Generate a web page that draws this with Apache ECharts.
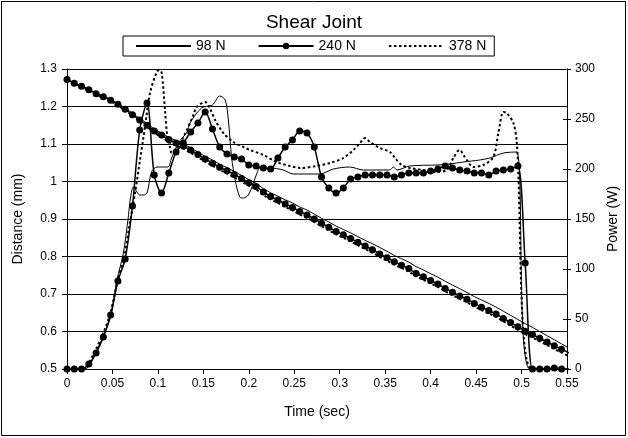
<!DOCTYPE html>
<html>
<head>
<meta charset="utf-8">
<script src="https://cdn.jsdelivr.net/npm/echarts@6/dist/echarts.min.js"></script>
<style>
  html, body { margin: 0; padding: 0; background: #fff; }
  #chart { width: 628px; height: 438px; }
</style>
</head>
<body>
<div id="chart"></div>
<script>
// Sample times (s) shared by the distance traces and the 240 N power trace
const timeS = [0,0.008,0.016,0.024,0.032,0.04,0.048,0.056,0.064,0.072,0.08,0.088,0.096,0.104,0.112,0.12,0.128,0.136,0.144,0.152,0.16,0.168,0.176,0.184,0.192,0.2,0.208,0.216,0.224,0.232,0.24,0.248,0.256,0.264,0.272,0.28,0.288,0.296,0.304,0.312,0.32,0.328,0.336,0.344,0.352,0.36,0.368,0.376,0.384,0.392,0.4,0.408,0.416,0.424,0.432,0.44,0.448,0.456,0.464,0.472,0.48,0.488,0.496,0.504,0.512,0.52,0.528,0.536,0.544,0.552];

// Horn distance (mm)
const dist98 = [1.273,1.263,1.255,1.246,1.236,1.228,1.219,1.208,1.196,1.182,1.168,1.155,1.140,1.129,1.118,1.109,1.101,1.090,1.078,1.067,1.057,1.046,1.037,1.027,1.016,1.005,0.995,0.981,0.970,0.961,0.951,0.943,0.932,0.924,0.913,0.902,0.892,0.881,0.872,0.863,0.853,0.843,0.834,0.824,0.814,0.803,0.794,0.785,0.773,0.764,0.754,0.745,0.734,0.724,0.714,0.704,0.693,0.684,0.675,0.665,0.654,0.643,0.632,0.621,0.611,0.600,0.589,0.578,0.567,0.556];
const dist240 = [1.272,1.262,1.254,1.245,1.234,1.226,1.217,1.206,1.193,1.178,1.164,1.150,1.135,1.124,1.112,1.103,1.095,1.084,1.072,1.060,1.049,1.038,1.029,1.019,1.008,0.997,0.987,0.972,0.960,0.951,0.940,0.931,0.920,0.911,0.900,0.889,0.878,0.867,0.858,0.848,0.838,0.828,0.818,0.807,0.797,0.786,0.777,0.768,0.755,0.746,0.736,0.727,0.715,0.705,0.695,0.686,0.675,0.665,0.656,0.647,0.635,0.624,0.613,0.601,0.592,0.582,0.572,0.562,0.553,0.543];
const dist378 = [1.272,1.261,1.252,1.243,1.232,1.223,1.214,1.203,1.190,1.175,1.160,1.146,1.130,1.118,1.106,1.096,1.088,1.077,1.065,1.053,1.042,1.031,1.021,1.011,1.000,0.989,0.979,0.964,0.952,0.943,0.932,0.923,0.912,0.903,0.892,0.881,0.870,0.859,0.850,0.840,0.830,0.820,0.810,0.799,0.789,0.778,0.769,0.760,0.747,0.738,0.728,0.719,0.707,0.697,0.687,0.678,0.667,0.657,0.648,0.639,0.627,0.616,0.605,0.593,0.584,0.574,0.564,0.553,0.544,0.534];

// Weld power (W)
const power240 = [0,0,0,5,16,32,54,88,110,163,239,266,194,176,196,217,226,237,246,257,240,222,215,212,210,204,203,201,200,211,222,229,238,236,222,192,181,176,181,190,192,194,194,194,194,192,194,196,196,196,198,200,203,201,199,198,196,196,194,198,199,200,203,106,0,0,0,1,0,0];

const time98P = [0,0.016,0.022,0.026,0.033,0.042,0.049,0.055,0.062,0.067,0.070,0.073,0.077,0.080,0.084,0.088,0.093,0.099,0.111,0.115,0.1225,0.132,0.1353,0.148,0.160,0.168,0.174,0.1775,0.181,0.185,0.190,0.194,0.1995,0.205,0.209,0.212,0.223,0.238,0.249,0.278,0.293,0.311,0.326,0.355,0.359,0.363,0.377,0.407,0.421,0.436,0.454,0.465,0.480,0.4946,0.509,0.552];
const power98 = [0,0,1,5,19,37,56,89,116,149,172,182,177,174,174,176,197,202,202,211,226,237,246,261,264,273,269,249,212,189,172,171,174,186,196,201,201,199,195,195,200,202,199,199,202,199,203,204,205,207,209,211,216,217,0,0];

const time378P = [0,0.012,0.02,0.024,0.032,0.04,0.048,0.056,0.063,0.068,0.0748,0.0803,0.0858,0.0913,0.0987,0.1016,0.1042,0.1078,0.1104,0.1133,0.1151,0.128,0.139,0.1427,0.152,0.157,0.163,0.172,0.183,0.194,0.2013,0.216,0.2307,0.2453,0.2563,0.2747,0.2893,0.304,0.315,0.3223,0.3278,0.3333,0.3443,0.3553,0.3608,0.3682,0.3773,0.392,0.4067,0.4177,0.425,0.4316,0.4397,0.447,0.458,0.469,0.4745,0.48,0.4837,0.491,0.4947,0.511,0.552];
const power378 = [0,0,2,6,20,36,57,90,112,140,176,209,242,276,297,299,296,259,232,222,216,232,254,262,267,261,249,236,227,222,219,214,207,203,201,203,206,211,219,226,231,227,221,217,211,204,201,199,197,199,211,219,209,202,204,212,236,257,256,246,227,0,0];

// Axis ranges and legend entries
const timeAxis = { min: 0, max: 0.55, step: 0.05 };
const distAxis = { min: 0.5, max: 1.3, step: 0.1 };
const powerAxis = { min: 0, max: 300, step: 50 };
const loads = ['98 N', '240 N', '378 N'];

const zip = (xs, ys) => xs.map((x, i) => [x, ys[i]]);
const FONT = 'Liberation Sans, Arial, sans-serif';
const INK = '#000';

const solidStyle = { color: INK, width: 1 };
const markerLineStyle = { color: INK, width: 1.5 };
const dottedStyle = { color: INK, width: 2, type: [2.5, 2.5] };

function lineSeries(name, yAxisIndex, data, style, withMarker, smooth) {
  return {
    name, type: 'line', yAxisIndex, data,
    smooth,
    symbol: withMarker ? 'circle' : 'none',
    symbolSize: 7,
    showSymbol: withMarker,
    itemStyle: { color: INK },
    lineStyle: style,
    z: withMarker ? 4 : 3,
    animation: false,
    silent: true
  };
}

const chart = echarts.init(document.getElementById('chart'), null, { renderer: 'canvas' });
chart.setOption({
  backgroundColor: '#fff',
  animation: false,
  title: {
    text: 'Shear Joint',
    left: 'center',
    top: 8,
    textStyle: { fontFamily: FONT, fontSize: 19, fontWeight: 'normal', color: INK }
  },
  legend: {
    // plain line keys for the unmarked traces
    data: [
      { name: loads[0], itemStyle: { opacity: 0 } },
      { name: loads[1] },
      { name: loads[2], itemStyle: { opacity: 0 } }
    ],
    left: 123,
    top: 36,
    itemWidth: 55,
    itemHeight: 8,
    itemGap: 32,
    padding: [3, 8, 3, 12],
    borderColor: INK,
    borderWidth: 1,
    backgroundColor: '#fff',
    textStyle: { fontFamily: FONT, fontSize: 14, color: INK }
  },
  graphic: [{
    type: 'rect',
    shape: { x: 1.5, y: 1.5, width: 624, height: 434 },
    style: { fill: null, stroke: INK, lineWidth: 1 },
    silent: true
  }],
  grid: { left: 67, right: 61, top: 69, bottom: 69 },
  xAxis: {
    type: 'value',
    min: timeAxis.min, max: timeAxis.max, interval: timeAxis.step,
    name: 'Time (sec)',
    nameLocation: 'middle',
    nameGap: 36,
    nameTextStyle: { fontFamily: FONT, fontSize: 14, color: INK },
    axisLine: { show: true, onZero: false, lineStyle: { color: INK, width: 1 } },
    axisTick: { show: true, length: 5, lineStyle: { color: INK } },
    axisLabel: { fontFamily: FONT, fontSize: 12, color: INK, margin: 9 },
    splitLine: { show: false }
  },
  yAxis: [{
    type: 'value',
    position: 'left',
    min: distAxis.min, max: distAxis.max, interval: distAxis.step,
    name: 'Distance (mm)',
    nameLocation: 'middle',
    nameRotate: 90,
    nameGap: 42,
    nameTextStyle: { fontFamily: FONT, fontSize: 14, color: INK },
    axisLine: { show: true, lineStyle: { color: INK, width: 1 } },
    axisTick: { show: true, length: 5, lineStyle: { color: INK } },
    axisLabel: { fontFamily: FONT, fontSize: 12, color: INK, margin: 10 },
    splitLine: { show: true, lineStyle: { color: INK, width: 1 } }
  }, {
    type: 'value',
    position: 'right',
    min: powerAxis.min, max: powerAxis.max, interval: powerAxis.step,
    name: 'Power (W)',
    nameLocation: 'middle',
    nameRotate: 90,
    nameGap: 38,
    nameTextStyle: { fontFamily: FONT, fontSize: 14, color: INK },
    axisLine: { show: true, lineStyle: { color: INK, width: 1 } },
    axisTick: { show: true, length: 4, lineStyle: { color: INK } },
    axisLabel: { fontFamily: FONT, fontSize: 12, color: INK, margin: 8 },
    splitLine: { show: false }
  }, {
    // inner half of the crossing tick marks on the power axis
    type: 'value',
    position: 'right',
    min: powerAxis.min, max: powerAxis.max, interval: powerAxis.step,
    axisLine: { show: false },
    axisTick: { show: true, inside: true, length: 4, lineStyle: { color: INK } },
    axisLabel: { show: false },
    splitLine: { show: false }
  }],
  series: [
    lineSeries(loads[0], 0, zip(timeS, dist98), solidStyle, false, false),
    lineSeries(loads[1], 0, zip(timeS, dist240), markerLineStyle, true, false),
    lineSeries(loads[2], 0, zip(timeS, dist378), dottedStyle, false, false),
    lineSeries(loads[0], 1, zip(time98P, power98), solidStyle, false, 0.3),
    lineSeries(loads[1], 1, zip(timeS, power240), markerLineStyle, true, 0.3),
    lineSeries(loads[2], 1, zip(time378P, power378), dottedStyle, false, 0.3)
  ]
});
</script>
</body>
</html>
